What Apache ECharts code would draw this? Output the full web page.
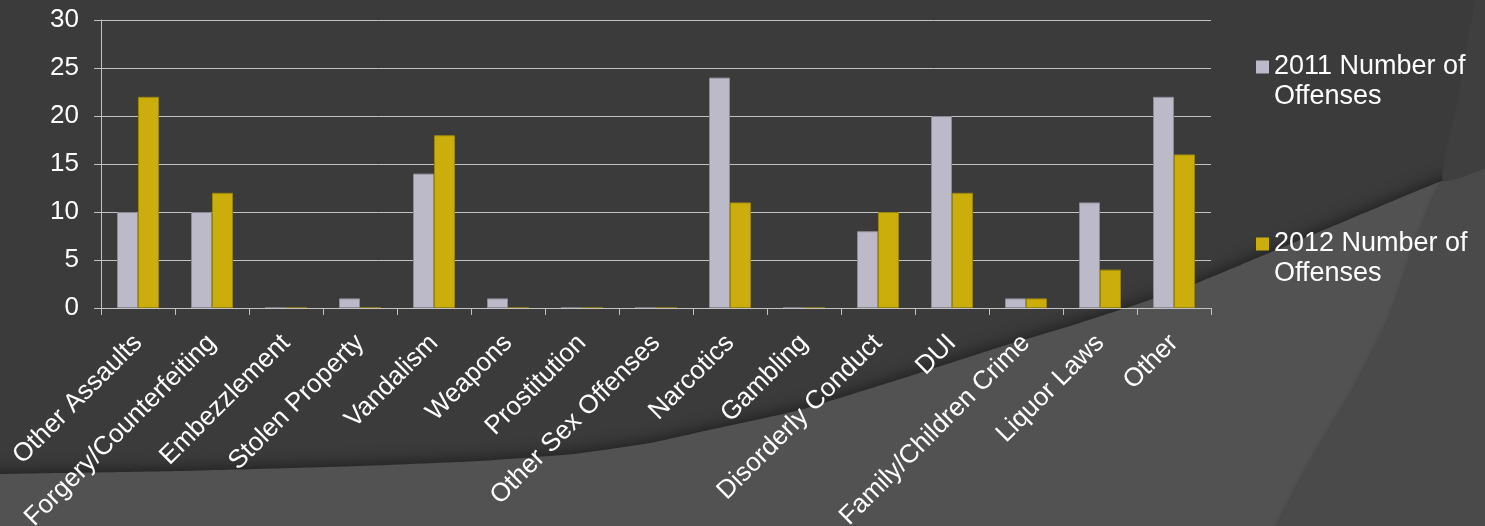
<!DOCTYPE html>
<html>
<head>
<meta charset="utf-8">
<script src="https://cdn.jsdelivr.net/npm/echarts@6/dist/echarts.min.js"></script>
<style>
html,body{margin:0;padding:0;background:#3b3b3b;}
#main{width:1485px;height:526px;}
</style>
</head>
<body>
<div id="main"></div>
<script>
// ---- data ----
var categories = ['Other Assaults','Forgery/Counterfeiting','Embezzlement','Stolen Property','Vandalism','Weapons','Prostitution','Other Sex Offenses','Narcotics','Gambling','Disorderly Conduct','DUI','Family/Children Crime','Liquor Laws','Other'];
var seriesNames = ['2011 Number of Offenses','2012 Number of Offenses'];
var values2011 = [10,10,0,1,14,1,0,0,24,0,8,20,1,11,22];
var values2012 = [22,12,0,0,18,0,0,0,11,0,10,12,1,4,16];
var yTicks = [0,5,10,15,20,25,30];

var FONT = "'Liberation Sans', Arial, sans-serif";
var axisGray = '#c2c2c2';

var chart = echarts.init(document.getElementById('main'), null, {renderer:'canvas'});

// decorative background shapes (theme swooshes)
var lightRegion = [[-40,475],[0,474],[180,471],[360,466],[480,461],[574,454],[650,443],[700,432],[800,410],[910,376],[1000,347],[1070,326],[1135,305],[1197,283],[1300,240],[1400,198],[1485,163],[1530,144],[1530,570],[-40,570]];
var arcLower = [[1443,181],[1413,250],[1390,317],[1353,390],[1313,457],[1277,526],[1270,560],[1530,560],[1530,144]];
var arcUpper = [[1443,181],[1458,100],[1468,40],[1475,0],[1475,-20],[1530,-20],[1530,144]];

var option = {
  backgroundColor: '#3b3b3b',
  animation: false,
  textStyle: {fontFamily: FONT},
  graphic: [
    {type:'polygon', z:-100, silent:true, shape:{points: lightRegion, smooth:0.12},
      style:{fill:'#525252', shadowBlur:16, shadowColor:'rgba(0,0,0,0.5)', shadowOffsetY:-2}},
    {type:'polygon', z:-99, silent:true, shape:{points: arcLower, smooth:0.15},
      style:{fill:'#4a4a4a', shadowBlur:4, shadowColor:'rgba(0,0,0,0.15)', shadowOffsetX:-1}},
    {type:'polygon', z:-99, silent:true, shape:{points: arcUpper, smooth:0.15},
      style:{fill:'#3f3f3f'}}
  ],
  grid: {left:101, right:274, top:20, bottom:218, containLabel:false, outerBoundsMode:'none'},
  legend: {
    orient:'vertical', left:1256, top:52, padding:0, itemGap:117,
    itemWidth:13, itemHeight:43,
    icon:'path://M0,0L13,0L13,13L0,13Z M0,43L13,43',
    itemStyle:{borderWidth:0},
    data: seriesNames,
    formatter: function(name){ return name.replace(' of ', ' of\n'); },
    textStyle:{color:'#ffffff', fontSize:27, lineHeight:30, fontFamily:FONT}
  },
  xAxis: {
    type:'category', data: categories, z:3,
    axisLine:{show:true, lineStyle:{color:axisGray, width:1}},
    axisTick:{show:true, length:7, lineStyle:{color:axisGray}},
    axisLabel:{rotate:45, interval:0, color:'#ffffff', fontSize:26, margin:31, fontFamily:FONT},
    splitLine:{show:false}
  },
  yAxis: {
    type:'value', min:yTicks[0], max:yTicks[yTicks.length-1], interval:5,
    axisLine:{show:true, lineStyle:{color:axisGray, width:1}},
    axisTick:{show:true, length:7, lineStyle:{color:axisGray}},
    axisLabel:{color:'#ffffff', fontSize:26, margin:22, fontFamily:FONT},
    splitLine:{show:true, lineStyle:{color:axisGray, width:1}}
  },
  series: [
    {name: seriesNames[0], type:'bar', data: values2011, barWidth:21, barGap:'0%',
      itemStyle:{color:'#bcbac8', borderColor:'#8c8a98', borderWidth:1}},
    {name: seriesNames[1], type:'bar', data: values2012, barWidth:21, barGap:'0%',
      itemStyle:{color:'#cbae0b', borderColor:'#9a840a', borderWidth:1}}
  ]
};
chart.setOption(option);
</script>
</body>
</html>
